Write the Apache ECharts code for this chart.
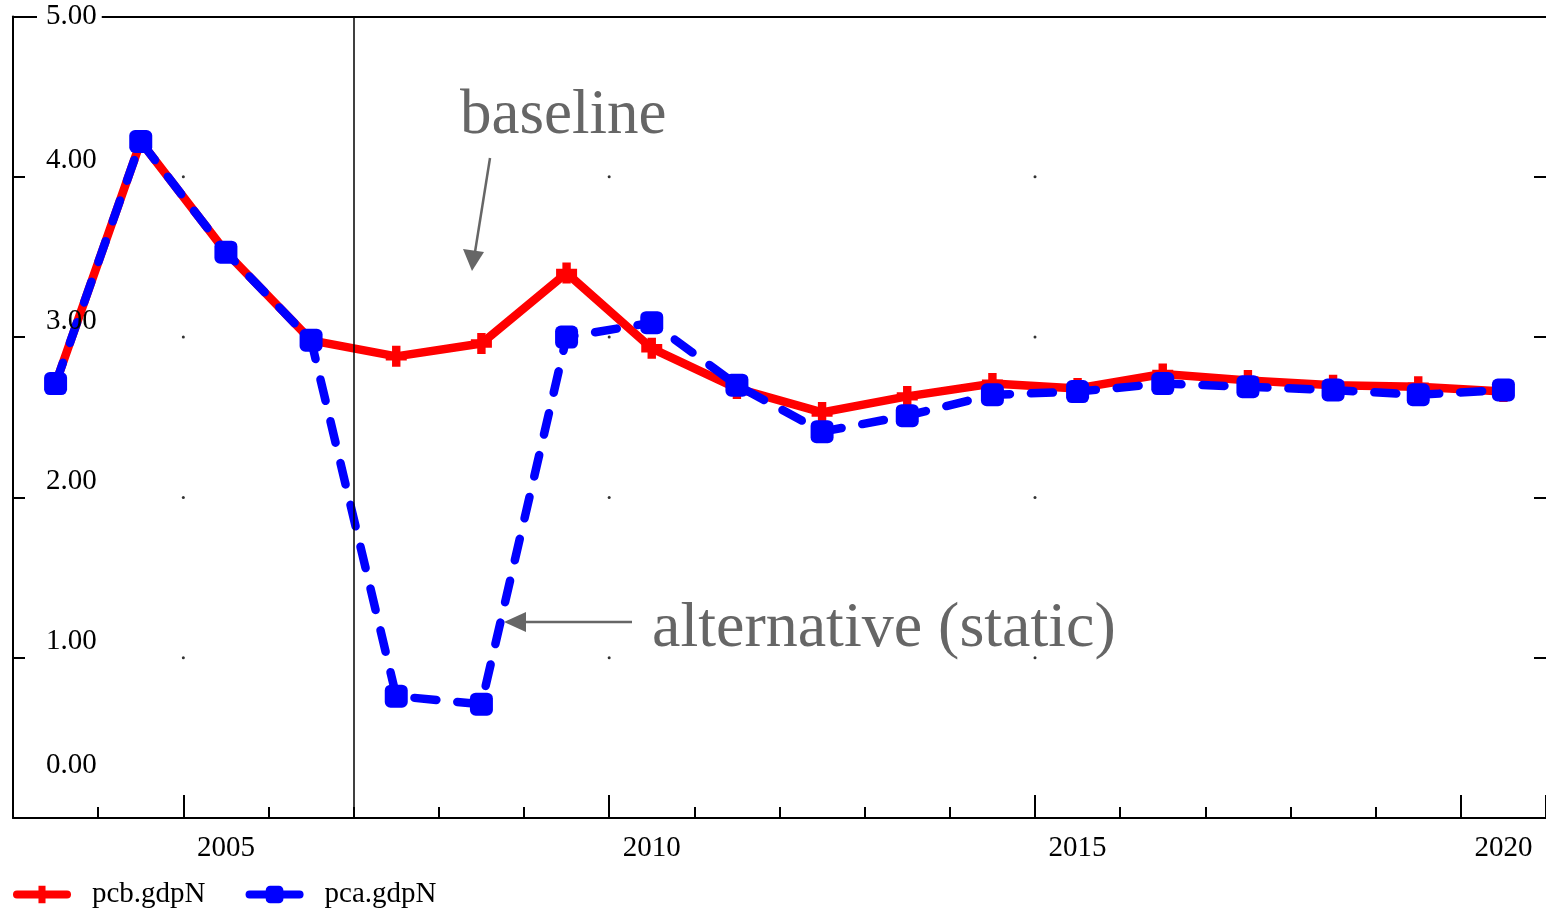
<!DOCTYPE html>
<html>
<head>
<meta charset="utf-8">
<script src="https://cdn.jsdelivr.net/npm/echarts@6/dist/echarts.min.js"></script>
<style>
html,body{margin:0;padding:0;background:#fff;}
#chart{width:1546px;height:909px;}
</style>
</head>
<body>
<div id="chart"></div>
<script>
const years = ['2003','2004','2005','2006','2007','2008','2009','2010','2011','2012','2013','2014','2015','2016','2017','2018','2019','2020'];
const pcbGdpN = [2.71,4.22,3.53,2.98,2.88,2.96,3.40,2.93,2.68,2.53,2.63,2.71,2.68,2.77,2.73,2.70,2.69,2.66];
const pcaGdpN = [2.71,4.22,3.53,2.98,0.76,0.71,3.00,3.09,2.70,2.41,2.51,2.64,2.66,2.71,2.69,2.67,2.64,2.67];
const yTicks = [0,1,2,3,4,5];
const labeledYears = ['2005','2010','2015','2020'];
const dotYears = [2004.5, 2009.5, 2014.5];
const dotLevels = [1,2,3,4];
const breakYear = 2006.5;
const annotations = ['baseline','alternative (static)'];

const FONT = '"Liberation Serif","Times New Roman",serif';
const dots = [];
dotYears.forEach(x => dotLevels.forEach(y => dots.push([x, y])));

const chart = echarts.init(document.getElementById('chart'), null, {renderer:'canvas'});
const plusPath = 'path://M6,0h8v6h6v8h-6v6h-8v-6h-6v-8h6z';

chart.setOption({
  animation:false,
  backgroundColor:'#fff',
  grid:{left:13, top:15, width:1535, height:803, containLabel:false},
  legend:{
    left:8, top:875, itemWidth:50, itemHeight:22, itemGap:40,
    textStyle:{fontFamily:FONT, fontSize:29, color:'#000', padding:[0,0,0,20]},
    data:[
      {name:'pcb.gdpN', lineStyle:{width:8}},
      {name:'pca.gdpN', lineStyle:{type:'solid', width:8}}
    ]
  },
  xAxis:[
    {type:'category', data:years, position:'bottom', boundaryGap:true, z:2,
     axisLine:{show:true, lineStyle:{color:'#000', width:2}},
     axisTick:{show:true, inside:true, length:11, interval:0, lineStyle:{color:'#000', width:2}},
     axisLabel:{show:true, margin:16, fontFamily:FONT, fontSize:29, color:'#000',
       interval:(i, v) => labeledYears.indexOf(v) >= 0},
     splitLine:{show:false}},
    {type:'category', data:years, position:'bottom', boundaryGap:true, z:2,
     axisLine:{show:false},
     axisTick:{show:true, inside:true, length:23, lineStyle:{color:'#000', width:2},
       interval:(i, v) => labeledYears.indexOf(v) >= 0},
     axisLabel:{show:false}, splitLine:{show:false}},
    {type:'category', data:years, position:'top', boundaryGap:true, z:1,
     axisLine:{show:true, lineStyle:{color:'#000', width:2}},
     axisTick:{show:false}, axisLabel:{show:false}, splitLine:{show:false}},
    {type:'value', min:2002.5, max:2020.5, show:false, position:'bottom', splitLine:{show:false}}
  ],
  yAxis:[
    {type:'value', min:0, max:5, interval:1, position:'left', z:5,
     axisLine:{show:true, lineStyle:{color:'#000', width:2}},
     axisTick:{show:true, inside:true, length:12, lineStyle:{color:'#000', width:2}},
     splitLine:{show:false},
     axisLabel:{show:true, inside:true, align:'left', margin:24, verticalAlign:'middle',
       formatter:(v) => {
         const s = v.toFixed(2);
         if (v === 5) return '{top|' + s + '}';
         if (v === 0) return '{zero|' + s + '}';
         return '{mid|' + s + '}';
       },
       rich:{
         top:{fontFamily:FONT, fontSize:29, color:'#000', backgroundColor:'#fff', padding:[2,5,2,9]},
         mid:{fontFamily:FONT, fontSize:29, color:'#000', padding:[0,5,32,9]},
         zero:{fontFamily:FONT, fontSize:29, color:'#000', padding:[0,5,106,9]}
       }}},
    {type:'value', min:0, max:5, interval:1, position:'right',
     axisLine:{show:false},
     axisTick:{show:true, inside:true, length:12, lineStyle:{color:'#000', width:2}},
     axisLabel:{show:false}, splitLine:{show:false}}
  ],
  series:[
    {name:'grid dots', type:'scatter', xAxisIndex:3, yAxisIndex:0, data:dots,
     symbol:'circle', symbolSize:3, itemStyle:{color:'#000'}, silent:true, z:1,
     markLine:{silent:true, symbol:['none','none'], label:{show:false},
       lineStyle:{color:'#000', width:1.5, type:'solid'},
       data:[{xAxis:breakYear}]}},
    {name:'pcb.gdpN', type:'line', xAxisIndex:0, yAxisIndex:0, data:pcbGdpN,
     symbol:plusPath, symbolSize:21, z:3,
     lineStyle:{color:'#ff0000', width:8.5, cap:'round', join:'round'},
     itemStyle:{color:'#ff0000'}},
    {name:'pca.gdpN', type:'line', xAxisIndex:0, yAxisIndex:0, data:pcaGdpN,
     symbol:'roundRect', symbolSize:23, z:4,
     lineStyle:{color:'#0000ff', width:8.5, type:[22,21], cap:'round', join:'round'},
     itemStyle:{color:'#0000ff'}}
  ],
  graphic:[
    {type:'text', left:460, top:85, z:10,
     style:{text:annotations[0], fontFamily:FONT, fontSize:63, fill:'#666666'}},
    {type:'polyline', z:10, shape:{points:[[490,158],[475,252]]}, style:{stroke:'#666666', lineWidth:2.5, fill:null}},
    {type:'polygon', z:10, shape:{points:[[472,271],[463,249],[484,252]]}, style:{fill:'#666666'}},
    {type:'text', left:652, top:597, z:10,
     style:{text:annotations[1], fontFamily:FONT, fontSize:64, fill:'#666666'}},
    {type:'polyline', z:10, shape:{points:[[632,622],[520,622]]}, style:{stroke:'#666666', lineWidth:2.5, fill:null}},
    {type:'polygon', z:10, shape:{points:[[504,622],[526,612],[526,632]]}, style:{fill:'#666666'}}
  ]
});
</script>
</body>
</html>
